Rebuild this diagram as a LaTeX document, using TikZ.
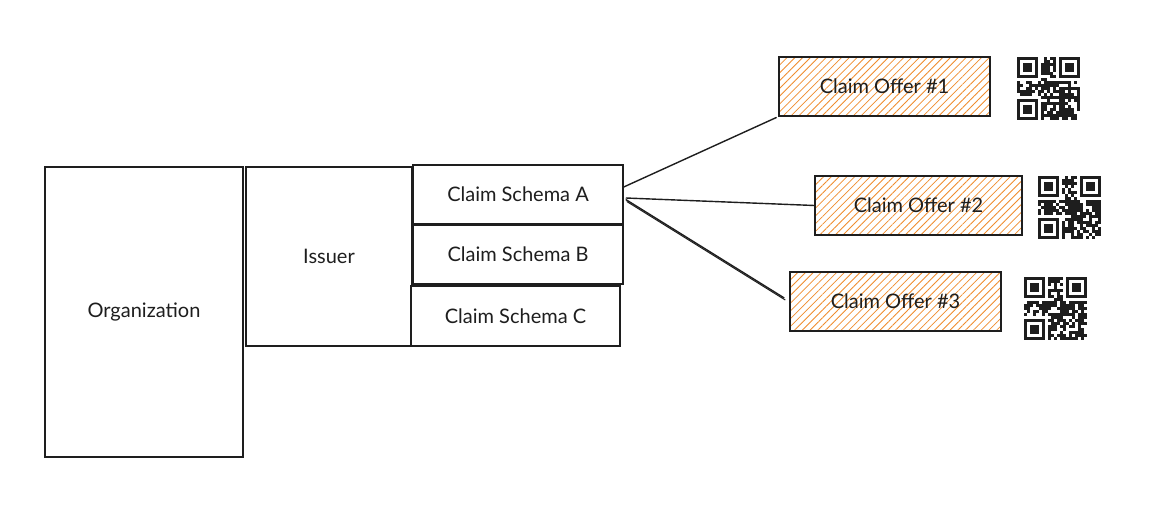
\documentclass[tikz,border=0pt]{standalone}
\usepackage{fontspec}
\setmainfont{Lato}
\usetikzlibrary{patterns.meta}

\definecolor{hatch}{RGB}{240,140,45}
\definecolor{ink}{RGB}{30,30,30}

\tikzset{
  sketchbox/.style={draw=ink, line width=1.5pt, fill=white, inner sep=0pt,
    font=\fontsize{20}{22}\selectfont, text=ink},
  offerbox/.style={sketchbox, fill=none,
    pattern={Lines[angle=45,distance=5.5pt,line width=0.8pt]}, pattern color=hatch},
  link/.style={draw=ink, line width=1.4pt},
  % a small QR-style code, 21 x 21 modules of 3 units each
  pics/qrcode/.style={code={
    \pgfmathsetseed{#1}
    \foreach \i in {0,...,20}{
      \foreach \j in {0,...,20}{
        \pgfmathtruncatemacro\qskip{(\i<8)*(\j<8)+(\i>12)*(\j<8)+(\i<8)*(\j>12)}
        \pgfmathrandominteger{\qbit}{0}{2}
        \ifnum\qskip=0
          \ifnum\qbit>0
            \fill[ink] (\i*3,\j*3) rectangle ++(3,3);
          \fi
        \fi
      }
    }
    \foreach \a/\b in {0/0,14/0,0/14}{
      \fill[ink] (\a*3,\b*3) rectangle ++(21,21);
      \fill[white] (\a*3+3,\b*3+3) rectangle ++(15,15);
      \fill[ink] (\a*3+6,\b*3+6) rectangle ++(9,9);
    }
  }}
}

\begin{document}
\begin{tikzpicture}[x=1pt,y=-1pt]
  \useasboundingbox[fill=white] (0,0) rectangle (1162,518);

  % left-hand structure
  \node[sketchbox, minimum width=198, minimum height=290] (org) at (144,312) {Organization};
  \node[sketchbox, minimum width=166, minimum height=179] (issuer) at (329,256.5) {Issuer};
  \node[sketchbox, minimum width=210, minimum height=59] (schemaA) at (518,194.5) {Claim Schema A};
  \node[sketchbox, minimum width=210, minimum height=59] (schemaB) at (518,254.5) {Claim Schema B};
  \node[sketchbox, minimum width=209, minimum height=60] (schemaC) at (515.5,316) {Claim Schema C};

  % claim offers
  \node[offerbox, minimum width=211, minimum height=59] (offer1) at (884.5,86.5) {Claim Offer \#1};
  \node[offerbox, minimum width=207, minimum height=59] (offer2) at (918.5,205.5) {Claim Offer \#2};
  \node[offerbox, minimum width=211, minimum height=59] (offer3) at (895.5,301.5) {Claim Offer \#3};

  % QR codes beside the offers
  \pic at (1017,57) {qrcode=11};
  \pic at (1038,176) {qrcode=23};
  \pic at (1024,277) {qrcode=37};

  % connectors from schema A to the offers
  \draw[link] ([yshift=7.5pt]schemaA.east) -- ([xshift=-2pt,yshift=-1pt]offer1.south west);
  \draw[link] ([xshift=2pt,yshift=-3.5pt]schemaA.east) -- (offer2.west);
  \draw[link] ([xshift=2pt,yshift=-5pt]schemaA.east) -- ([xshift=-5pt,yshift=3.5pt]offer3.west);
  \draw[link, line width=1pt] ([xshift=3pt,yshift=-7pt]schemaA.east) -- ([xshift=-4pt,yshift=1.5pt]offer3.west);
\end{tikzpicture}
\end{document}
